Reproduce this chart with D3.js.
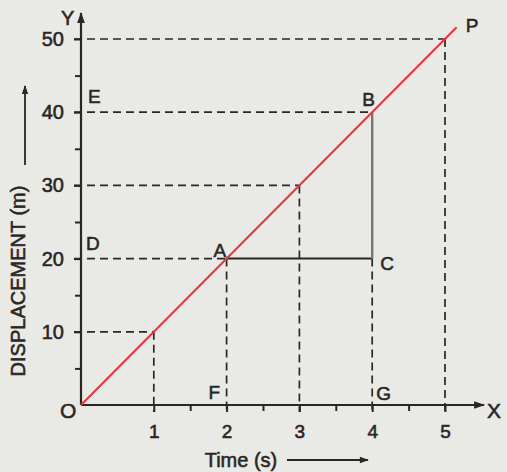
<!DOCTYPE html>
<html><head><meta charset="utf-8">
<script src="https://cdn.jsdelivr.net/npm/d3@7"></script>
<style>
html,body{margin:0;padding:0;background:#e9e9e6;}
svg{display:block;font-family:"Liberation Sans",Arial,sans-serif;}
svg text{stroke:#2a2624;stroke-width:0.55px;}
</style></head>
<body><div id="chart"></div>
<script>
const xTicks = [1, 2, 3, 4, 5];
const yTicks = [10, 20, 30, 40, 50];
const xMinor = [1.5, 2.5, 3.5, 4.5];
const yMinor = [5, 15, 25, 35, 45];
const lineStart = [0, 0];
const lineEnd = [5.16, 51.6];
// dashed guides: [x, y] points on line
const guidePoints = [[1, 10], [3, 30], [4, 40], [5, 50]];
const pointA = [2, 20], pointB = [4, 40], pointC = [4, 20];
const pointLabels = [
  {t: "P", x: 5.16, y: 51.6, dx: 9, dy: 5},
  {t: "E", x: 0, y: 40, dx: 7, dy: -9},
  {t: "B", x: 4, y: 40, dx: -10, dy: -6},
  {t: "D", x: 0, y: 20, dx: 5, dy: -9},
  {t: "A", x: 2, y: 20, dx: -13, dy: -2},
  {t: "C", x: 4, y: 20, dx: 8, dy: 11},
  {t: "F", x: 2, y: 0, dx: -18, dy: -6},
  {t: "G", x: 4, y: 0, dx: 4, dy: -5}
];

const W = 507, H = 472;
const svg = d3.select("#chart").append("svg").attr("width", W).attr("height", H);
svg.append("rect").attr("width", W).attr("height", H).attr("fill", "#e9e9e6");

const x = d3.scaleLinear().domain([0, 5]).range([81, 445]);
const y = d3.scaleLinear().domain([0, 50]).range([405, 39]);
const ink = "#2a2624";
const dash = "8,5";

// guides
const g = svg.append("g");
guidePoints.forEach(([px, py]) => {
  g.append("line").attr("x1", x(0) - 7).attr("x2", x(px)).attr("y1", y(py)).attr("y2", y(py))
    .attr("stroke", ink).attr("stroke-width", 1.7).attr("stroke-dasharray", dash);
  if (px !== 4) g.append("line").attr("x1", x(px)).attr("x2", x(px)).attr("y1", y(py)).attr("y2", y(0) + 7)
    .attr("stroke", ink).attr("stroke-width", 1.7).attr("stroke-dasharray", dash);
});
g.append("line").attr("x1", x(0) - 7).attr("x2", x(pointA[0])).attr("y1", y(20)).attr("y2", y(20))
  .attr("stroke", ink).attr("stroke-width", 1.7).attr("stroke-dasharray", dash);
g.append("line").attr("x1", x(2)).attr("x2", x(2)).attr("y1", y(20)).attr("y2", y(0) + 7)
  .attr("stroke", ink).attr("stroke-width", 1.7).attr("stroke-dasharray", dash);
g.append("line").attr("x1", x(4)).attr("x2", x(4)).attr("y1", y(pointC[1])).attr("y2", y(0) + 7)
  .attr("stroke", ink).attr("stroke-width", 1.7).attr("stroke-dasharray", dash);
// A-C solid
g.append("line").attr("x1", x(pointA[0])).attr("x2", x(pointC[0])).attr("y1", y(pointA[1])).attr("y2", y(pointC[1]))
  .attr("stroke", ink).attr("stroke-width", 2);
// B-C solid grey
g.append("line").attr("x1", x(pointB[0])).attr("x2", x(pointC[0])).attr("y1", y(pointB[1])).attr("y2", y(pointC[1]))
  .attr("stroke", "#77777a").attr("stroke-width", 2.4);

// axes
const xAxis = d3.axisBottom(x).tickValues(xTicks).tickSize(7).tickFormat(d3.format("d"));
const ax = svg.append("g").attr("transform", `translate(0,${y(0)})`).call(xAxis);
ax.select(".domain").remove();
ax.selectAll(".tick line").attr("stroke", ink).attr("stroke-width", 2);
ax.selectAll(".tick text").attr("fill", ink).attr("font-size", 19).attr("dy", "1.2em");
const xMin = d3.axisBottom(x).tickValues(xMinor).tickSize(6).tickFormat("");
const axm = svg.append("g").attr("transform", `translate(0,${y(0)})`).call(xMin);
axm.select(".domain").remove();
axm.selectAll(".tick line").attr("stroke", ink).attr("stroke-width", 2);

const yAxis = d3.axisLeft(y).tickValues(yTicks).tickSize(7).tickPadding(10).tickFormat(d3.format("d"));
const ay = svg.append("g").attr("transform", `translate(${x(0)},0)`).call(yAxis);
ay.select(".domain").remove();
ay.selectAll(".tick line").attr("stroke", ink).attr("stroke-width", 2);
ay.selectAll(".tick text").attr("fill", ink).attr("font-size", 20);
const yMin = d3.axisLeft(y).tickValues(yMinor).tickSize(6).tickFormat("");
const aym = svg.append("g").attr("transform", `translate(${x(0)},0)`).call(yMin);
aym.select(".domain").remove();
aym.selectAll(".tick line").attr("stroke", ink).attr("stroke-width", 2);

// axis lines with arrows
const defs = svg.append("defs");
defs.append("marker").attr("id", "arr").attr("viewBox", "0 0 10 10").attr("refX", 9).attr("refY", 5)
  .attr("markerWidth", 6).attr("markerHeight", 5).attr("orient", "auto")
  .append("path").attr("d", "M0,1.5 L10,5 L0,8.5 Z").attr("fill", ink);
svg.append("line").attr("x1", x(0)).attr("y1", y(0)).attr("x2", 484).attr("y2", y(0))
  .attr("stroke", ink).attr("stroke-width", 2.2).attr("marker-end", "url(#arr)");
svg.append("line").attr("x1", x(0)).attr("y1", y(0)).attr("x2", x(0)).attr("y2", 13)
  .attr("stroke", ink).attr("stroke-width", 2.2).attr("marker-end", "url(#arr)");

// red line
svg.append("line").attr("x1", x(lineStart[0])).attr("y1", y(lineStart[1]))
  .attr("x2", x(lineEnd[0])).attr("y2", y(lineEnd[1]))
  .attr("stroke", "#e8333f").attr("stroke-width", 2);

// letters
const lbl = svg.append("g").attr("fill", ink).attr("font-size", 19);
pointLabels.forEach(p => {
  lbl.append("text").attr("x", x(p.x) + p.dx).attr("y", y(p.y) + p.dy).text(p.t);
});
lbl.append("text").attr("x", 60).attr("y", 418).attr("font-size", 21).text("O");
lbl.append("text").attr("x", 487).attr("y", 418).attr("font-size", 21).text("X");
lbl.append("text").attr("x", 61).attr("y", 25).attr("font-size", 20).text("Y");

// axis titles
svg.append("text").attr("transform", "translate(25,281) rotate(-90)").attr("text-anchor", "middle")
  .attr("fill", ink).attr("font-size", 20).text("DISPLACEMENT (m)");
svg.append("line").attr("x1", 25).attr("y1", 165).attr("x2", 25).attr("y2", 86)
  .attr("stroke", ink).attr("stroke-width", 1.8).attr("marker-end", "url(#arr)");
svg.append("text").attr("x", 241).attr("y", 467).attr("text-anchor", "middle")
  .attr("fill", ink).attr("font-size", 20).text("Time (s)");
svg.append("line").attr("x1", 287).attr("y1", 460).attr("x2", 368).attr("y2", 460)
  .attr("stroke", ink).attr("stroke-width", 1.8).attr("marker-end", "url(#arr)");
</script></body></html>
